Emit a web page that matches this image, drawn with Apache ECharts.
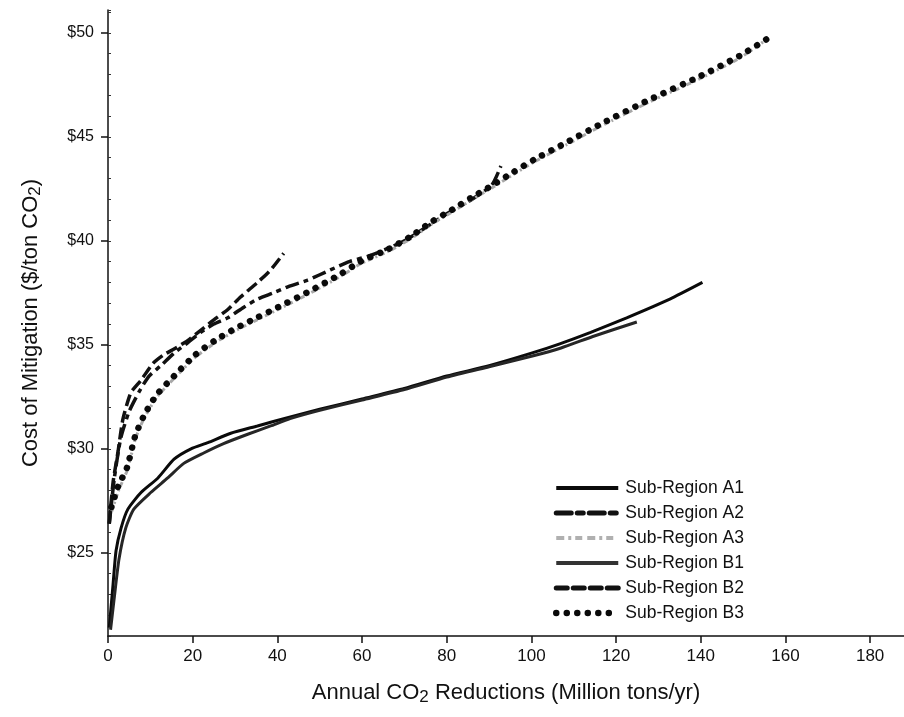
<!DOCTYPE html>
<html>
<head>
<meta charset="utf-8">
<script src="https://cdn.jsdelivr.net/npm/echarts@6/dist/echarts.min.js"></script>
<style>
  html, body { margin: 0; padding: 0; background: #fff; }
  #chart { width: 904px; height: 717px; }
</style>
</head>
<body>
<div id="chart"></div>
<script>
// x = annual CO2 reductions (million tons/yr), y = cost ($/ton CO2)
const a1X = [0.3, 1.2, 1.9, 3.1, 4.7, 7.8, 11.8, 15.6, 19.6, 23.6, 29, 35.3, 42.4, 50, 60, 70, 80, 90, 100, 106.7, 114, 122.5, 132.7, 140.4]
const a1Y = [21.4, 23.5, 25.1, 26.2, 27.1, 27.9, 28.6, 29.5, 30.0, 30.3, 30.75, 31.1, 31.5, 31.9, 32.4, 32.9, 33.5, 34.0, 34.6, 35.05, 35.6, 36.3, 37.2, 38.0]

const a2X = [0.3, 1.5, 3, 5, 7.5, 9.7, 12.5, 15.6, 18.8, 21.9, 25, 28.3, 32, 35.3, 39.1, 42.6, 47, 52.5, 57, 62, 70, 80, 86, 90.7, 92.8]
const a2Y = [26.4, 28.6, 30.5, 31.8, 32.8, 33.5, 34.0, 34.6, 35.1, 35.6, 36.0, 36.3, 36.8, 37.2, 37.5, 37.8, 38.1, 38.6, 39.0, 39.3, 40.0, 41.3, 42.0, 42.7, 43.6]

const a3X = [0.9, 2.5, 4.6, 6.5, 8.6, 11.6, 15.7, 20.6, 25.3, 30.3, 35.2, 40.2, 47.9, 55, 59.7, 66.3, 71.5, 76.4, 81.4, 86.1, 91.1, 95.8, 100.7, 108.1, 116.3, 128.1, 139.8, 149.3, 156]
const a3Y = [27.0, 28.0, 29.0, 30.5, 31.5, 32.5, 33.4, 34.4, 35.1, 35.7, 36.2, 36.7, 37.5, 38.3, 38.9, 39.5, 40.1, 40.8, 41.4, 42.0, 42.6, 43.2, 43.8, 44.6, 45.5, 46.7, 47.8, 48.8, 49.75]

const b1X = [0.6, 1.4, 2.6, 4.2, 6.1, 10.1, 14.1, 17.9, 22.6, 27.3, 33, 38.4, 43, 50, 60, 70, 80, 90, 100, 107, 114.5, 124.9]
const b1Y = [21.3, 22.7, 24.7, 26.2, 27.1, 27.9, 28.6, 29.3, 29.8, 30.25, 30.7, 31.1, 31.45, 31.85, 32.35, 32.85, 33.45, 33.95, 34.45, 34.85, 35.4, 36.1]

const b2X = [0.3, 1.2, 2.4, 3.5, 5.4, 7.8, 10.6, 13, 15.6, 18.8, 21.9, 25, 28.3, 31.3, 35.3, 38.4, 41.5]
const b2Y = [26.4, 28.4, 29.9, 31.4, 32.7, 33.3, 34.1, 34.5, 34.8, 35.2, 35.7, 36.2, 36.7, 37.3, 38.0, 38.6, 39.4]

const b3X = [0.8, 2.4, 4.5, 6.4, 8.5, 11.5, 15.6, 20.5, 25.2, 30.2, 35.1, 40.1, 47.8, 54.9, 59.6, 66.2, 71.4, 76.3, 81.3, 86, 91, 95.7, 100.6, 108, 116.2, 128, 139.7, 149.2, 156]
const b3Y = [27.2, 28.2, 29.1, 30.6, 31.6, 32.6, 33.5, 34.5, 35.2, 35.8, 36.3, 36.8, 37.6, 38.4, 39.0, 39.6, 40.2, 40.9, 41.5, 42.1, 42.7, 43.3, 43.9, 44.7, 45.6, 46.8, 47.9, 48.9, 49.75]

const seriesNames = ['Sub-Region A1', 'Sub-Region A2', 'Sub-Region A3', 'Sub-Region B1', 'Sub-Region B2', 'Sub-Region B3']
const xTicks = [0, 20, 40, 60, 80, 100, 120, 140, 160, 180]
const yTicks = [25, 30, 35, 40, 45, 50]

const font = "'Liberation Sans', Arial, sans-serif"
const pairs = (xs, ys) => xs.map((x, i) => [x, ys[i]])

const styles = [
  { color: '#0a0a0a', width: 3, type: 'solid' },
  { color: '#111', width: 3.5, type: [14, 5, 5, 5] },
  { color: '#a8a8a8', width: 3, type: [5, 3, 2, 3] },
  { color: '#262626', width: 3, type: 'solid' },
  { color: '#111', width: 3.5, type: [12, 5] },
  { color: '#0a0a0a', width: 6.5, type: [0.01, 10.5], cap: 'round' }
]
const legendStyles = [
  { color: '#0a0a0a', width: 4, type: 'solid' },
  { color: '#111', width: 5, type: [15, 6, 6, 6], cap: 'round' },
  { color: '#b0b0b0', width: 4, type: [8, 4, 3, 4, 7, 5] },
  { color: '#333', width: 4, type: 'solid' },
  { color: '#111', width: 5, type: [11, 6], cap: 'round' },
  { color: '#0a0a0a', width: 6.5, type: [0.01, 10.5], cap: 'round' }
]

const chart = echarts.init(document.getElementById('chart'))

const xs = [a1X, a2X, a3X, b1X, b2X, b3X]
const ys = [a1Y, a2Y, a3Y, b1Y, b2Y, b3Y]

const series = seriesNames.map((name, i) => ({
  name: name,
  type: 'line',
  data: pairs(xs[i], ys[i]),
  symbol: 'none',
  showSymbol: false,
  smooth: 0.2,
  itemStyle: { color: styles[i].color },
  lineStyle: styles[i]
}))

const option = {
  animation: false,
  backgroundColor: '#fff',
  textStyle: { fontFamily: font },
  grid: { left: 108, right: 0, top: 10, bottom: 81 },
  legend: {
    orient: 'vertical',
    left: 553,
    top: 479,
    padding: 0,
    itemWidth: 62,
    itemHeight: 14,
    itemGap: 7,
    data: seriesNames.map((name, i) => ({
      name: name,
      itemStyle: { opacity: 0 },
      lineStyle: legendStyles[i]
    })),
    textStyle: { fontFamily: font, fontSize: 17.5, color: '#111', padding: [0, 0, 0, 2], lineHeight: 18 }
  },
  xAxis: {
    type: 'value',
    min: 0,
    max: 188,
    interval: 20,
    name: 'Annual CO{sub|2} Reductions (Million tons/yr)',
    nameLocation: 'middle',
    nameGap: 43,
    nameTextStyle: {
      fontFamily: font, fontSize: 22, color: '#111',
      rich: { sub: { fontFamily: font, fontSize: 17, color: '#111', padding: [10, 0, 0, 0] } }
    },
    axisLine: { lineStyle: { color: '#111', width: 1.5 } },
    axisTick: { customValues: xTicks, length: 7, lineStyle: { color: '#111', width: 1.5 } },
    axisLabel: { customValues: xTicks, fontFamily: font, fontSize: 17, color: '#111', margin: 12 },
    splitLine: { show: false }
  },
  yAxis: [{
    type: 'value',
    min: 21,
    max: 51.1,
    interval: 1,
    name: 'Cost of Mitigation ($/ton CO{sub|2})',
    nameLocation: 'middle',
    nameRotate: 90,
    nameGap: 64,
    nameTextStyle: {
      fontFamily: font, fontSize: 22, color: '#111',
      rich: { sub: { fontFamily: font, fontSize: 17, color: '#111', padding: [10, 0, 0, 0] } }
    },
    axisLine: { lineStyle: { color: '#111', width: 1.5 } },
    axisTick: { customValues: yTicks, length: 7, lineStyle: { color: '#111', width: 1.5 } },
    axisLabel: {
      customValues: yTicks, fontFamily: font, fontSize: 16, color: '#111', margin: 14,
      formatter: v => '$' + v
    },
    splitLine: { show: false }
  }, {
    // minor ticks every 1 unit
    type: 'value',
    position: 'left',
    min: 21,
    max: 51.1,
    interval: 1,
    axisLine: { show: false },
    axisTick: { show: true, inside: true, length: 3, lineStyle: { color: '#333', width: 1 } },
    axisLabel: { show: false },
    splitLine: { show: false }
  }],
  series: series
}

chart.setOption(option)
window.addEventListener('resize', () => chart.resize())
</script>
</body>
</html>
